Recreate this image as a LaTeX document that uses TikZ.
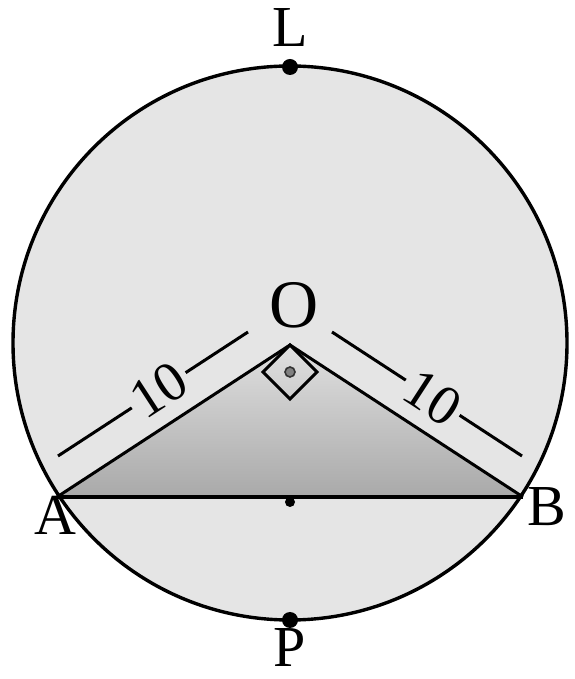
\documentclass[tikz,border=0pt]{standalone}
\usepackage{fontspec}
\setmainfont{Liberation Serif}
\usepackage{tikz}
\usetikzlibrary{calc}
\tikzstyle{rim} = [draw, line width=1.7pt, fill=black!10]
\tikzstyle{side} = [draw, line width=1.5pt]
\tikzstyle{chord} = [draw, line width=2.2pt]
\tikzstyle{dimline} = [draw, line width=1.5pt]
\tikzstyle{dimlabel} = [fill=black!10, inner sep=2pt, font=\fontsize{28}{32}\selectfont]
\tikzstyle{ptlabel} = [font=\fontsize{29}{33}\selectfont]
\tikzstyle{ptdot} = [fill=black]
\definecolor{trishade}{HTML}{a9a9a9}

\begin{document}
\begin{tikzpicture}[x=0.5pt, y=0.5pt]
    \useasboundingbox (0, 0) rectangle (574, 679);

    \coordinate (C) at (290, 336);
    \coordinate (O) at (290, 334);
    \coordinate (A) at (57, 182);
    \coordinate (B) at (523, 182);
    \coordinate (L) at (290, 612);
    \coordinate (P) at (290, 59);
    \coordinate (M) at (290, 177);

    \path[rim] (C) circle (277);

    \shade[top color=black!12, bottom color=trishade] (A) -- (O) -- (B) -- cycle;
    \path[side] (A) -- (O) -- (B);
    \path[chord] (A) -- (B);

    \coordinate (rl) at (263, 307);
    \coordinate (rb) at (290, 280);
    \coordinate (rr) at (317, 307);
    \path[side, line width=1.5pt] (O) -- (rl) -- (rb) -- (rr) -- cycle;
    \filldraw[fill=black!50, draw=black!80, line width=0.8pt] (290, 307) circle (5);

    \coordinate (da1) at (248, 347);
    \coordinate (da2) at (58, 223);
    \coordinate (db1) at (332, 347);
    \coordinate (db2) at (522, 223);
    \path[dimline] (da1) -- node[dimlabel, pos=0.47, rotate=33] (tenA) {10} (da2);
    \path[dimline] (db1) -- node[dimlabel, pos=0.53, rotate=-33] (tenB) {10} (db2);

    \fill[ptdot] (L) circle (8);
    \fill[ptdot] (P) circle (8);
    \fill[ptdot] (M) circle (5);

    \node[ptlabel] at (290, 651) (labL) {L};
    \node[ptlabel] at (290, 31) (labP) {P};
    \node[ptlabel, font=\fontsize{34}{38}\selectfont] at (294, 374) (labO) {O};
    \node[ptlabel] at (55, 164) (labA) {A};
    \node[ptlabel] at (547, 172) (labB) {B};

\end{tikzpicture}
\end{document}
